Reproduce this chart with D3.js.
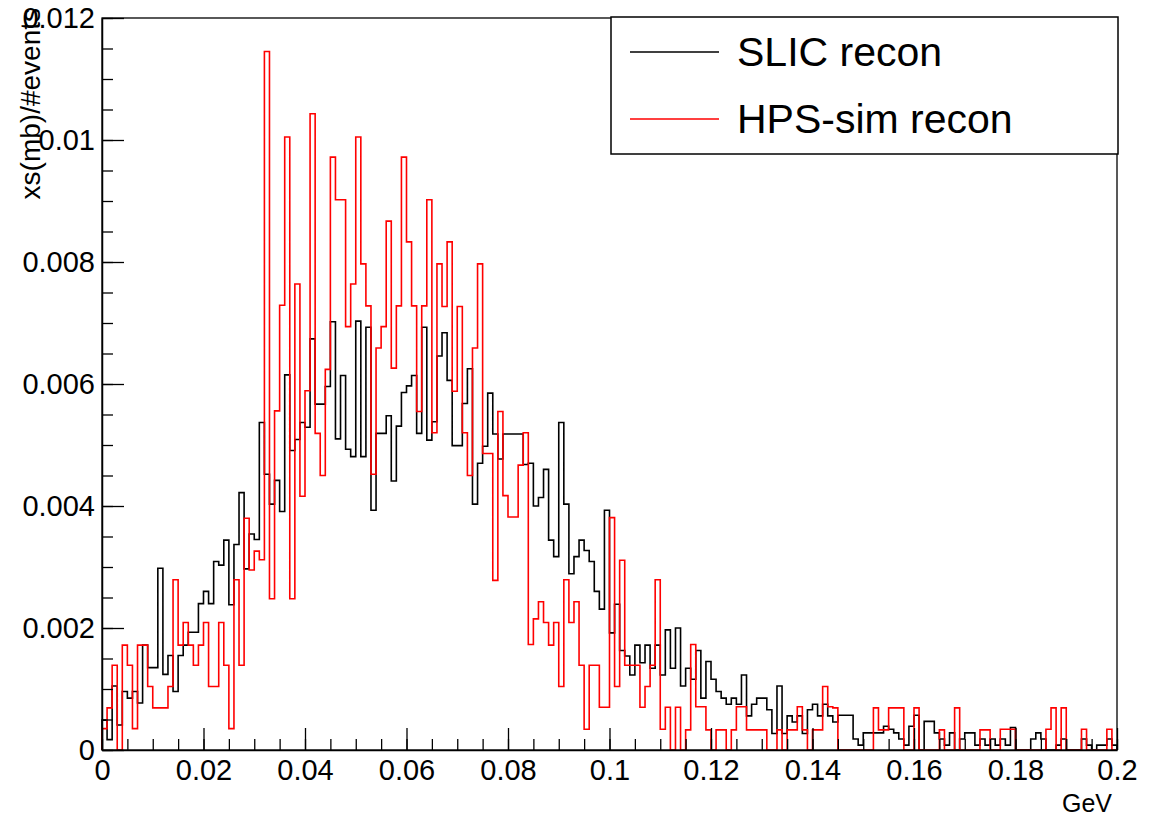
<!DOCTYPE html>
<html><head><meta charset="utf-8">
<script src="https://cdn.jsdelivr.net/npm/d3@7"></script>
<style>
body{margin:0;background:#fff}
svg{display:block}
text{font-family:"Liberation Sans",Arial,Helvetica,sans-serif;fill:#000}
</style></head>
<body><svg id="c" width="1173" height="819"></svg>
<script>
// bin width in GeV, range 0..0.2 GeV (200 bins)
const binWidth = 0.001;
const xRange = [0, 0.2];
const yRange = [0, 0.012];

// SLIC recon (black), xs(mb)/#events per bin
const slicValues = [
0.49e-3,0.17e-3,1.05e-3,0.41e-3,0.96e-3,0.85e-3,0.96e-3,0.77e-3,1.72e-3,1.35e-3,
1.35e-3,2.98e-3,1.24e-3,1.55e-3,0.96e-3,1.55e-3,1.72e-3,1.93e-3,1.93e-3,2.40e-3,
2.60e-3,2.40e-3,3.09e-3,3.03e-3,3.44e-3,2.38e-3,3.37e-3,4.22e-3,2.97e-3,3.54e-3,
3.45e-3,5.37e-3,4.52e-3,4.03e-3,4.42e-3,3.91e-3,6.15e-3,4.91e-3,5.09e-3,5.37e-3,
5.29e-3,6.74e-3,5.67e-3,5.67e-3,5.96e-3,7.02e-3,5.10e-3,6.14e-3,4.93e-3,4.81e-3,
7.03e-3,4.81e-3,6.93e-3,3.93e-3,5.19e-3,5.19e-3,5.48e-3,4.41e-3,5.31e-3,5.86e-3,
5.97e-3,6.14e-3,5.19e-3,6.93e-3,5.08e-3,5.38e-3,6.46e-3,6.84e-3,6.06e-3,4.99e-3,
4.99e-3,5.68e-3,6.25e-3,4.03e-3,4.70e-3,4.98e-3,5.85e-3,5.18e-3,4.77e-3,5.18e-3,
5.18e-3,5.18e-3,5.18e-3,4.68e-3,4.70e-3,4.00e-3,4.14e-3,4.60e-3,3.44e-3,3.17e-3,
5.37e-3,4.03e-3,2.89e-3,3.17e-3,3.44e-3,3.27e-3,3.09e-3,2.60e-3,2.31e-3,3.93e-3,
1.92e-3,2.39e-3,1.63e-3,1.54e-3,1.23e-3,1.72e-3,1.43e-3,1.72e-3,1.34e-3,1.72e-3,
1.23e-3,1.97e-3,1.34e-3,2.00e-3,1.05e-3,1.34e-3,1.16e-3,1.63e-3,0.85e-3,1.45e-3,
1.16e-3,0.96e-3,0.85e-3,0.75e-3,0.85e-3,0.75e-3,1.23e-3,0.56e-3,0.75e-3,0.85e-3,
0.85e-3,0.66e-3,0.27e-3,1.05e-3,0.27e-3,0.56e-3,0.46e-3,0.56e-3,0.27e-3,0.66e-3,
0.75e-3,0.56e-3,0.75e-3,0.56e-3,0.46e-3,0.57e-3,0.57e-3,0.57e-3,0.18e-3,0.08e-3,
0.28e-3,0.28e-3,0.28e-3,0.28e-3,0.39e-3,0.34e-3,0.28e-3,0.18e-3,0.08e-3,0.39e-3,
0.57e-3,0,0.47e-3,0.47e-3,0.28e-3,0.18e-3,0.08e-3,0.28e-3,0,0.18e-3,
0.28e-3,0.28e-3,0.08e-3,0.18e-3,0.08e-3,0.18e-3,0.08e-3,0.18e-3,0.08e-3,0.37e-3,
0,0,0,0.18e-3,0.28e-3,0.18e-3,0,0,0.08e-3,0.18e-3,
0,0,0,0.18e-3,0.08e-3,0,0.08e-3,0.08e-3,0.18e-3,0.08e-3
];

// HPS-sim recon (red)
const hpsValues = [
0.35e-3,0.69e-3,1.39e-3,0,1.72e-3,1.39e-3,0.35e-3,1.72e-3,1.72e-3,1.04e-3,
0.69e-3,0.69e-3,0.69e-3,1.04e-3,2.79e-3,1.72e-3,2.09e-3,1.72e-3,1.39e-3,1.72e-3,
2.09e-3,1.04e-3,1.04e-3,2.09e-3,1.39e-3,0.35e-3,2.79e-3,1.39e-3,3.80e-3,2.95e-3,
3.26e-3,3.12e-3,11.45e-3,2.48e-3,5.56e-3,7.29e-3,10.05e-3,2.48e-3,7.64e-3,4.16e-3,
5.89e-3,10.43e-3,5.19e-3,4.50e-3,6.24e-3,9.72e-3,9.02e-3,9.02e-3,6.94e-3,7.64e-3,
10.05e-3,7.97e-3,7.28e-3,4.52e-3,6.59e-3,6.94e-3,8.67e-3,6.26e-3,7.28e-3,9.72e-3,
8.33e-3,7.28e-3,5.55e-3,7.28e-3,9.02e-3,5.20e-3,7.97e-3,7.27e-3,8.33e-3,5.88e-3,
7.27e-3,5.20e-3,4.50e-3,6.59e-3,7.97e-3,4.86e-3,4.86e-3,2.78e-3,5.55e-3,4.17e-3,
3.82e-3,3.82e-3,4.67e-3,5.20e-3,1.73e-3,2.15e-3,2.43e-3,2.09e-3,1.72e-3,2.09e-3,
1.04e-3,2.79e-3,2.09e-3,2.43e-3,1.39e-3,0.34e-3,1.39e-3,1.39e-3,0.70e-3,0.70e-3,
3.81e-3,1.04e-3,3.11e-3,1.39e-3,1.39e-3,1.39e-3,0.70e-3,1.04e-3,1.39e-3,2.79e-3,
0.34e-3,0.70e-3,0,0.70e-3,0,0.33e-3,1.73e-3,0.71e-3,0.71e-3,0.33e-3,
0,0.33e-3,0.33e-3,0,0.33e-3,0.71e-3,0.71e-3,0.33e-3,0.33e-3,0.33e-3,
0.33e-3,0,0,0.33e-3,0,0.33e-3,0.33e-3,0.71e-3,0.33e-3,0,
0.33e-3,0.33e-3,1.04e-3,0.71e-3,0.69e-3,0,0,0,0,0,
0,0,0.69e-3,0.33e-3,0.33e-3,0.69e-3,0.69e-3,0.69e-3,0,0,
0.69e-3,0,0,0,0,0.33e-3,0,0,0.69e-3,0,
0,0,0,0.33e-3,0.33e-3,0,0,0.34e-3,0.34e-3,0.34e-3,
0,0,0,0,0,0,0.34e-3,0.69e-3,0,0.69e-3,
0,0,0,0.34e-3,0,0,0,0,0.34e-3,0
];

const seriesNames = ["SLIC recon", "HPS-sim recon"];
const seriesColors = ["#000000", "#ff0000"];

const xTickValues = [0,0.02,0.04,0.06,0.08,0.1,0.12,0.14,0.16,0.18,0.2];
const xTickLabels = ["0","0.02","0.04","0.06","0.08","0.1","0.12","0.14","0.16","0.18","0.2"];
const yTickValues = [0,0.002,0.004,0.006,0.008,0.01,0.012];
const yTickLabels = ["0","0.002","0.004","0.006","0.008","0.01","0.012"];
const xTitle = "GeV";
const yTitle = "xs(mb)/#events";

const svg = d3.select("#c");
const x = d3.scaleLinear().domain(xRange).range([102,1117]);
const y = d3.scaleLinear().domain(yRange).range([750,18]);

function histPath(vals){
  const pts = [[x(0), y(0)]];
  vals.forEach((v,i)=>{
    pts.push([x(i*binWidth), y(v)]);
    pts.push([x((i+1)*binWidth), y(v)]);
  });
  pts.push([x(vals.length*binWidth), y(0)]);
  return d3.line()(pts);
}

// histograms
[slicValues, hpsValues].forEach((vals,k)=>{
  svg.append("path").attr("d", histPath(vals))
    .attr("fill","none").attr("stroke",seriesColors[k])
    .attr("stroke-width",1.6).attr("stroke-linejoin","miter");
});

// frame
svg.append("rect").attr("x",x(0)).attr("y",y(0.012))
  .attr("width",x(0.2)-x(0)).attr("height",y(0)-y(0.012))
  .attr("fill","none").attr("stroke","#000").attr("stroke-width",1.3);

// axes (ticks inward, ROOT style)
const xMinor = d3.range(0, 0.2001, 0.005);
const yMinor = d3.range(0, 0.01201, 0.0005);

const gx = svg.append("g").attr("transform",`translate(0,${y(0)})`);
gx.call(d3.axisBottom(x).tickValues(xMinor).tickSize(-11).tickSizeOuter(0).tickFormat(""));
gx.call(g=>g.select(".domain").remove());
const gx2 = svg.append("g").attr("transform",`translate(0,${y(0)})`);
gx2.call(d3.axisBottom(x).tickValues(xTickValues).tickSize(-22).tickSizeOuter(0).tickPadding(9.5)
  .tickFormat((d,i)=>xTickLabels[i]));
gx2.selectAll("text").attr("font-size",29).attr("font-family","Liberation Sans, Arial, sans-serif").attr("fill","#000");

const gy = svg.append("g").attr("transform",`translate(${x(0)},0)`);
gy.call(d3.axisLeft(y).tickValues(yMinor).tickSize(-11).tickSizeOuter(0).tickFormat(""));
gy.call(g=>g.select(".domain").remove());
const gy2 = svg.append("g").attr("transform",`translate(${x(0)},0)`);
gy2.call(d3.axisLeft(y).tickValues(yTickValues).tickSize(-22).tickSizeOuter(0).tickPadding(7)
  .tickFormat((d,i)=>yTickLabels[i]));
gy2.selectAll("text").attr("font-size",29).attr("font-family","Liberation Sans, Arial, sans-serif").attr("fill","#000");
svg.selectAll(".tick line").attr("stroke","#000").attr("stroke-width",1.3);
svg.selectAll(".domain").attr("stroke","#000").attr("stroke-width",1.5);

// axis titles
svg.append("text").attr("x",1112).attr("y",812).attr("text-anchor","end")
  .attr("font-size",25).text(xTitle);
svg.append("text").attr("transform","translate(40,8) rotate(-90)")
  .attr("text-anchor","end").attr("font-size",28).text(yTitle);

// legend
const lg = svg.append("g");
lg.append("rect").attr("x",611).attr("y",17).attr("width",507).attr("height",137)
  .attr("fill","#fff").attr("stroke","#000").attr("stroke-width",1.5);
const legY = [52, 119];
seriesNames.forEach((name,k)=>{
  lg.append("line").attr("x1",630).attr("x2",719).attr("y1",legY[k]).attr("y2",legY[k])
    .attr("stroke",seriesColors[k]).attr("stroke-width",1.6);
  lg.append("text").attr("x",737).attr("y",legY[k]+14).attr("font-size",41).text(name);
});
</script></body></html>
